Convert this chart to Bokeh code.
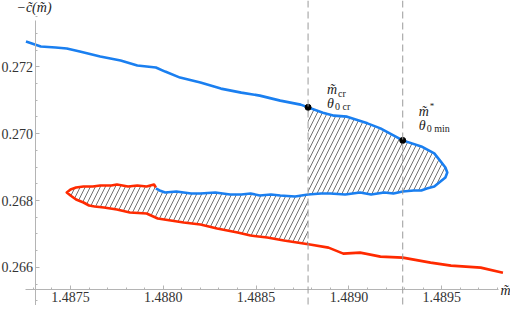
import numpy as np
from bokeh.plotting import figure
from bokeh.models import Range1d, LinearAxis, Label, Span, FixedTicker, NumeralTickFormatter
from bokeh.embed import file_html
from bokeh.resources import INLINE

# ---- data ----
# blue branch, upper part (left -> turning point)
upper_m = [1.48726, 1.48734, 1.48742, 1.48748, 1.48755, 1.48766, 1.48777, 1.48786, 1.48796,
           1.48801, 1.48809, 1.48820, 1.48831, 1.48842, 1.48852, 1.48863, 1.48874, 1.48886,
           1.48892, 1.48899, 1.48910, 1.48917, 1.48929, 1.48939, 1.48946, 1.48949, 1.48952,
           1.48953]
upper_c = [0.27276, 0.27261, 0.27258, 0.27255, 0.27246, 0.27231, 0.27219, 0.27204, 0.27198,
           0.27186, 0.27168, 0.27153, 0.27135, 0.27123, 0.27114, 0.27099, 0.27087, 0.27063,
           0.27054, 0.27051, 0.27031, 0.27016, 0.26980, 0.26962, 0.26941, 0.26920, 0.26899,
           0.26884]
# blue branch, lower part (turning point -> junction with red)
lower_m = [1.48952, 1.48950, 1.48948, 1.48946, 1.48942, 1.48939, 1.48935, 1.48929, 1.48924,
           1.48919, 1.48912, 1.48906, 1.48898, 1.48890, 1.48885, 1.48878, 1.48871, 1.48863,
           1.48858, 1.48852, 1.48847, 1.48842, 1.48836, 1.48828, 1.48820, 1.48815, 1.48807,
           1.48801, 1.48798, 1.48796]
lower_c = [0.26869, 0.26860, 0.26851, 0.26842, 0.26836, 0.26830, 0.26830, 0.26827, 0.26821,
           0.26824, 0.26818, 0.26824, 0.26818, 0.26821, 0.26821, 0.26818, 0.26812, 0.26815,
           0.26818, 0.26815, 0.26821, 0.26818, 0.26818, 0.26824, 0.26821, 0.26821, 0.26827,
           0.26824, 0.26830, 0.26836]
# red branch, upper part (junction -> left tip)
red_top_m = [1.48796, 1.48795, 1.48791, 1.48786, 1.48781, 1.48775, 1.48772, 1.48766, 1.48762,
             1.48757, 1.48753, 1.48750, 1.48748]
red_top_c = [0.26839, 0.26848, 0.26842, 0.26845, 0.26842, 0.26848, 0.26845, 0.26845, 0.26842,
             0.26842, 0.26839, 0.26833, 0.26824]
# red branch, lower part (left tip -> right end)
red_bot_m = [1.48750, 1.48753, 1.48757, 1.48760, 1.48763, 1.48768, 1.48775, 1.48782, 1.48791,
             1.48797, 1.48804, 1.48811, 1.48820, 1.48829, 1.48840, 1.48847, 1.48856, 1.48865,
             1.48879, 1.48889, 1.48897, 1.48906, 1.48917, 1.48929, 1.48944, 1.48955, 1.48971,
             1.48983]
red_bot_c = [0.26815, 0.26803, 0.26794, 0.26785, 0.26782, 0.26779, 0.26773, 0.26764, 0.26761,
             0.26746, 0.26740, 0.26734, 0.26728, 0.26716, 0.26704, 0.26695, 0.26689, 0.26680,
             0.26668, 0.26659, 0.26641, 0.26644, 0.26632, 0.26629, 0.26614, 0.26605, 0.26599,
             0.26584]

m_cr = 1.48878
m_star = 1.48929

x_ticks = [1.4875, 1.4880, 1.4885, 1.4890, 1.4895]
x_tick_labels = ["1.4875", "1.4880", "1.4885", "1.4890", "1.4895"]
y_ticks = [0.266, 0.268, 0.270, 0.272]
y_tick_labels = ["0.266", "0.268", "0.270", "0.272"]

# view window and axes placement
x_min, x_max = 1.4871228, 1.4898707
y_min, y_max = 0.2648563, 0.273988
x_axis_at = 0.265335
y_axis_at = 1.4873087
x_axis_bounds = (1.4872575, 1.4898061)
y_axis_bounds = (y_min, 0.273389)

BLUE = "#1a7ff0"
RED = "#ff2a00"
SERIF = "Liberation Serif"

# ---- figure ----
p = figure(width=510, height=305, x_range=Range1d(x_min, x_max), y_range=Range1d(y_min, y_max),
           x_axis_type=None, y_axis_type=None, toolbar_location=None, output_backend="svg",
           min_border_left=0, min_border_right=0, min_border_top=0, min_border_bottom=0)
p.outline_line_color = None
p.background_fill_color = "white"

x_minor = list(np.round(np.arange(1.4873, 1.4899, 0.0001), 4))
y_minor = list(np.round(np.arange(0.2650, 0.2735, 0.0005), 4))

xaxis = LinearAxis(ticker=FixedTicker(ticks=x_ticks, minor_ticks=x_minor),
                   formatter=NumeralTickFormatter(format="0.0000"),
                   major_label_overrides=dict(zip(x_ticks, x_tick_labels)),
                   bounds=x_axis_bounds)
yaxis = LinearAxis(ticker=FixedTicker(ticks=y_ticks, minor_ticks=y_minor),
                   formatter=NumeralTickFormatter(format="0.000"),
                   major_label_overrides=dict(zip(y_ticks, y_tick_labels)),
                   bounds=y_axis_bounds)
xaxis.fixed_location = x_axis_at
yaxis.fixed_location = y_axis_at
for ax in (xaxis, yaxis):
    ax.axis_line_color = "#b4b4b4"
    ax.major_tick_line_color = "#b4b4b4"
    ax.minor_tick_line_color = "#b4b4b4"
    ax.major_tick_in = 4
    ax.major_tick_out = 0
    ax.minor_tick_in = 2
    ax.minor_tick_out = 0
    ax.major_label_text_font = SERIF
    ax.major_label_text_font_size = "14px"
    ax.major_label_text_color = "#333333"
    ax.major_label_standoff = 2
p.add_layout(xaxis, "below")
p.add_layout(yaxis, "left")

# ---- hatched regions (derived from the branches) ----
um, uc = np.array(upper_m), np.array(upper_c)
lm, lc = np.array(lower_m), np.array(lower_c)
tm, tc = np.array(red_top_m), np.array(red_top_c)
bm, bc = np.array(red_bot_m), np.array(red_bot_c)

c_up_cr = np.interp(m_cr, um, uc)
c_up_star = np.interp(m_star, um, uc)
c_lo_cr = np.interp(m_cr, lm[::-1], lc[::-1])
c_bot_cr = np.interp(m_cr, bm, bc)

sel_u = um > m_cr
sel_l = lm > m_cr
right_x = [m_cr] + list(um[sel_u]) + list(lm[sel_l]) + [m_cr]
right_y = [c_up_cr] + list(uc[sel_u]) + list(lc[sel_l]) + [c_lo_cr]

sel_l2 = lm < m_cr
sel_b = bm < m_cr
left_x = [m_cr] + list(lm[sel_l2]) + list(tm) + list(bm[sel_b]) + [m_cr]
left_y = [c_lo_cr] + list(lc[sel_l2]) + list(tc) + list(bc[sel_b]) + [c_bot_cr]

for xs, ys in ((right_x, right_y), (left_x, left_y)):
    p.patch(xs, ys, fill_color=None, line_color=None, hatch_pattern="/",
            hatch_color="#333333", hatch_weight=0.7, hatch_scale=10)

# dashed verticals
for loc in (m_cr, m_star):
    p.add_layout(Span(location=loc, dimension="height", line_color="#9a9a9a",
                      line_width=1, line_dash="7 4"))

# curves
p.line(list(um) + list(lm), list(uc) + list(lc), line_color=BLUE, line_width=2.6,
       line_join="round")
p.line(list(tm) + list(bm), list(tc) + list(bc), line_color=RED, line_width=2.6,
       line_join="round")

# marked points
p.scatter([m_cr, m_star], [c_up_cr, c_up_star], size=6, color="black")

def lab(x, y, txt, xo, yo, size="14px", style="italic", align="left", base="middle"):
    p.add_layout(Label(x=x, y=y, text=txt, x_offset=xo, y_offset=yo, text_font=SERIF,
                       text_font_size=size, text_font_style=style, text_color="#222222",
                       text_align=align, text_baseline=base))

lab(m_cr, c_up_cr, "m\u0303", 19, 18)
lab(m_cr, c_up_cr, "cr", 30, 14, size="10px", style="normal")
lab(m_cr, c_up_cr, "\u03b8", 19, 4)
lab(m_cr, c_up_cr, "0 cr", 27, 1, size="10px", style="normal")
lab(m_star, c_up_star, "m\u0303", 16, 29)
lab(m_star, c_up_star, "*", 27, 34, size="9px", style="normal")
lab(m_star, c_up_star, "\u03b8", 16, 15)
lab(m_star, c_up_star, "0 min", 24, 12, size="10px", style="normal")

# axis titles
lab(y_axis_at, y_axis_bounds[1], "\u2212c\u0303(m\u0303)", -1, 13, size="14px", align="center")
lab(x_axis_bounds[1], x_axis_at, "m\u0303", 2, -1, size="14px")

open("out.html", "w").write(file_html(p, INLINE))
